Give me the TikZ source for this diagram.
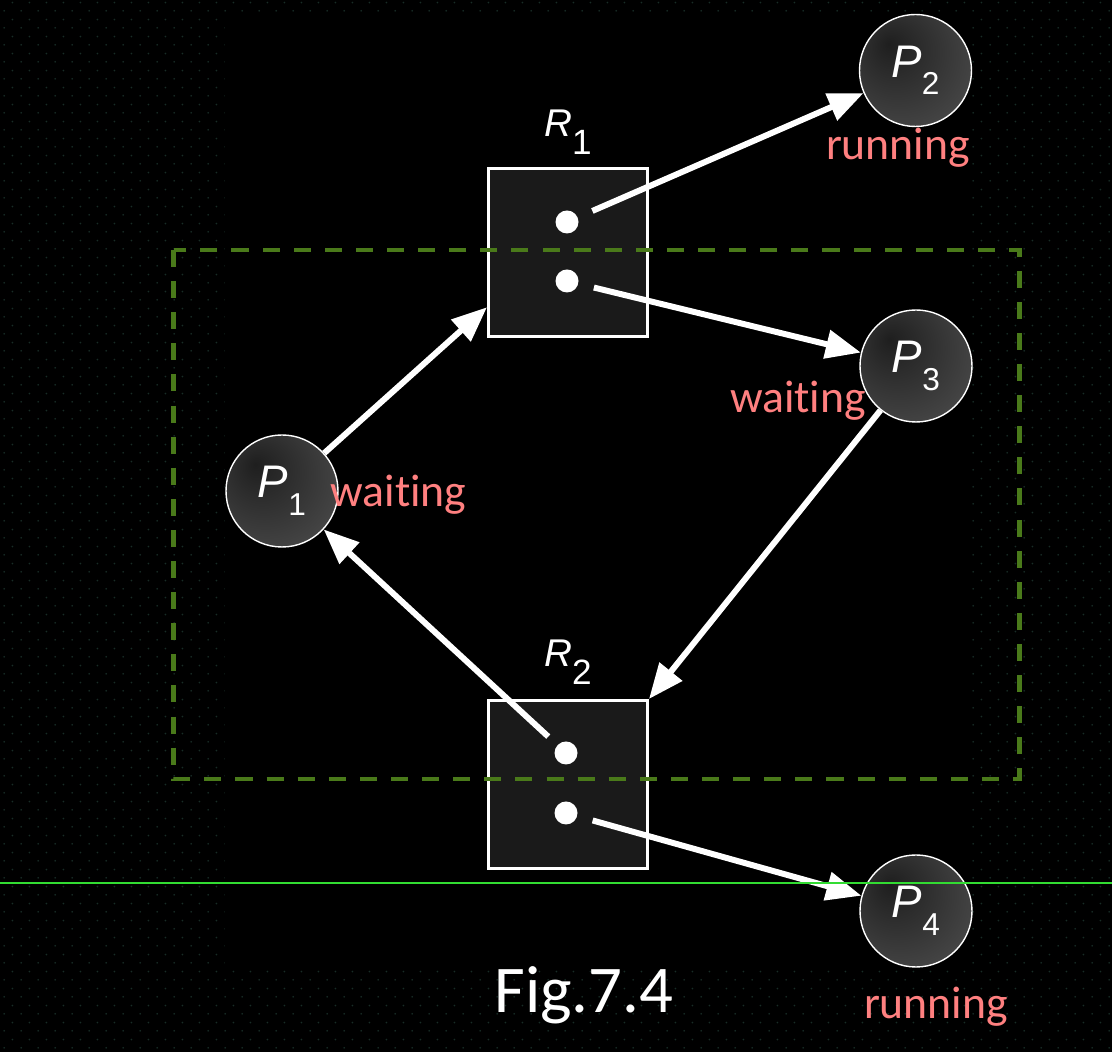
\documentclass[tikz,border=0pt]{standalone}
\usepackage{fontspec}
\setmainfont{Carlito}[Ligatures=NoCommon]
\newfontfamily\helv{Liberation Sans}
\usetikzlibrary{arrows.meta,calc,patterns}

\definecolor{dotgrey}{RGB}{24,44,38}
\definecolor{boxgreen}{RGB}{74,122,26}
\definecolor{tagpink}{RGB}{255,128,128}
\definecolor{boxfill}{RGB}{26,26,26}
\definecolor{cutline}{RGB}{50,220,50}

\pgfdeclareradialshading{procball}{\pgfpoint{-12bp}{12bp}}{color(0bp)=(black!88); color(18bp)=(black!80); color(40bp)=(black!70); color(64bp)=(black!64)}

% staggered dots of the slide background
\pgfdeclarepatternformonly{slidedots}{\pgfpointorigin}{\pgfpoint{0.336cm}{0.336cm}}{\pgfpoint{0.336cm}{0.336cm}}{
	\pgfpathcircle{\pgfpoint{0.084cm}{0.084cm}}{0.02cm}
	\pgfpathcircle{\pgfpoint{0.252cm}{0.252cm}}{0.02cm}
	\pgfusepath{fill}
}

\newcommand{\pname}[1]{\helv\fontsize{26}{26}\selectfont\itshape P\upshape\fontsize{18}{18}\selectfont\raisebox{-10pt}{#1}}
\newcommand{\rname}[1]{\helv\fontsize{22}{22}\selectfont\itshape R\upshape\fontsize{20}{20}\selectfont\raisebox{-10pt}{#1}}

\begin{document}
\begin{tikzpicture}[
	proc/.style={circle,draw=white,line width=0.8pt,shading=procball,minimum size=2.24cm,inner sep=0,text=white},
	res/.style={draw=white,line width=1.7pt,fill=boxfill,minimum width=3.18cm,minimum height=3.36cm,inner sep=0},
	slot/.style={circle,fill=white,minimum size=0.46cm,inner sep=0},
	req/.style={draw=white,line width=3.4pt,-{Triangle[length=20pt,width=16pt]}},
	tag/.style={text=tagpink,font=\fontsize{26}{26}\selectfont,anchor=base}
]
	\useasboundingbox (0,0) rectangle (22.24,21.04);
	% dotted slide background
	\fill[black] (0,0) rectangle (22.24,21.04);
	\fill[pattern=slidedots,pattern color=dotgrey] (0,0) rectangle (22.24,21.04);
	\fill[black] (4.5,1.68) rectangle (19.4,20.8);

	% resources
	\node[res] (R1) at (11.36,15.99) {};
	\node[res] (R2) at (11.36,5.35) {};
	\node (R1lbl) at (11.36,18.4) {\color{white}\rname{1}};
	\node (R2lbl) at (11.36,7.8) {\color{white}\rname{2}};

	% deadlock region
	\draw[boxgreen,line width=2.3pt,dash pattern=on 9.7pt off 8pt] (3.47,16.04) rectangle (20.39,5.46);

	\node[slot] (R1a) at (11.34,16.6) {};
	\node[slot] (R1b) at (11.34,15.42) {};
	\node[slot] (R2a) at (11.32,5.98) {};
	\node[slot] (R2b) at (11.32,4.78) {};

	% processes
	\node[proc] (P1) at (5.64,11.22) {\pname{1}};
	\node[proc] (P2) at (18.31,19.63) {\pname{2}};
	\node[proc] (P3) at (18.32,13.72) {\pname{3}};
	\node[proc] (P4) at (18.32,2.82) {\pname{4}};

	% edges
	\draw[req] (P1) -- ($(R1.west)!0.64!(R1.south west)$);
	\draw[req,shorten <=9pt] (R1a) -- (P2);
	\draw[req,shorten <=9pt] (R1b) -- (P3);
	\draw[req] (P3) -- (R2.north east);
	\draw[req,shorten <=7pt] (R2a) -- (P1);
	\draw[req,shorten <=9pt] (R2b) -- (P4);

	\node[tag] (s2) at (17.96,17.84) {running};
	\node[tag] (s3) at (15.96,12.78) {waiting};
	\node[tag] (s1) at (7.97,10.9) {waiting};
	\node[tag] (s4) at (18.72,0.66) {running};
	\node[anchor=base,text=white,font=\fontsize{38}{38}\selectfont] (cap) at (11.68,0.78) {Fig.7.4};

	\draw[cutline,line width=0.6pt] (0,3.38) -- (22.24,3.38);
\end{tikzpicture}
\end{document}
